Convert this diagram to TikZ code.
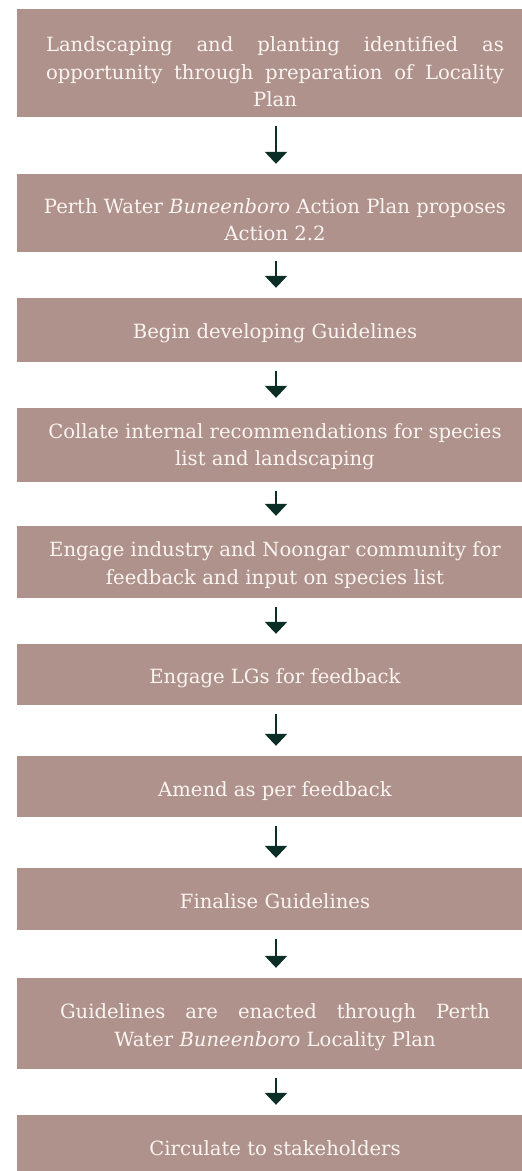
\documentclass[tikz,border=0pt]{standalone}
\usepackage{fontspec}
\setmainfont{DejaVu Serif}
\usetikzlibrary{arrows.meta}
\definecolor{boxfill}{RGB}{175,146,139}
\definecolor{arrowcol}{RGB}{11,47,38}
\definecolor{txtcol}{RGB}{250,245,242}
% #1 = downward shift of the text, #2 = lines
\newcommand{\boxlines}[2]{\hspace*{11pt}\begin{tabular}{@{}c@{}}\rule{0pt}{\dimexpr19.25pt+2\dimexpr#1\relax\relax}#2\end{tabular}}
\begin{document}
\begin{tikzpicture}[x=1pt,y=1pt,
  stepbox/.style={fill=boxfill, inner sep=0pt, minimum width=505pt, text=txtcol,
    font=\fontsize{19.6}{27.5}\selectfont},
  flow/.style={draw=arrowcol, line width=2.6pt, -{Triangle[width=22pt,length=12pt]},
    shorten <=9pt, shorten >=10pt}]
\useasboundingbox (0,0) rectangle (522,-1171);

\node[stepbox, minimum height=108pt] (b1) at (269.5,-63) {\boxlines{10.5pt}{%
  \makebox[458pt][s]{Landscaping and planting identified as}\\
  \makebox[458pt][s]{opportunity through preparation of Locality}\\
  Plan}};
\node[stepbox, minimum height=78pt] (b2) at (269.5,-213) {\boxlines{8.5pt}{%
  Perth Water \textit{Buneenboro} Action Plan proposes\\ Action 2.2}};
\node[stepbox, minimum height=64pt] (b3) at (269.5,-330) {\boxlines{2.5pt}{%
  Begin developing Guidelines}};
\node[stepbox, minimum height=74pt] (b4) at (269.5,-445) {\boxlines{1.5pt}{%
  Collate internal recommendations for species\\ list and landscaping}};
\node[stepbox, minimum height=72pt] (b5) at (269.5,-562) {\boxlines{3pt}{%
  Engage industry and Noongar community for\\ feedback and input on species list}};
\node[stepbox, minimum height=61pt] (b6) at (269.5,-674.5) {\boxlines{3pt}{%
  Engage LGs for feedback}};
\node[stepbox, minimum height=61pt] (b7) at (269.5,-786.5) {\boxlines{4pt}{%
  Amend as per feedback}};
\node[stepbox, minimum height=62pt] (b8) at (269.5,-899) {\boxlines{3.5pt}{%
  Finalise Guidelines}};
\node[stepbox, minimum height=91pt] (b9) at (269.5,-1023.5) {\boxlines{3.5pt}{%
  \makebox[430pt][s]{Guidelines are enacted through Perth}\\
  Water \textit{Buneenboro} Locality Plan}};
\node[stepbox, minimum height=56pt] (b10) at (269.5,-1143) {\boxlines{6.5pt}{%
  Circulate to stakeholders}};

\foreach \a/\b in {b1/b2,b2/b3,b3/b4,b4/b5,b5/b6,b6/b7,b7/b8,b8/b9,b9/b10}
  \draw[flow] ([xshift=6.5pt]\a.south) -- ([xshift=6.5pt]\b.north);
\end{tikzpicture}
\end{document}
